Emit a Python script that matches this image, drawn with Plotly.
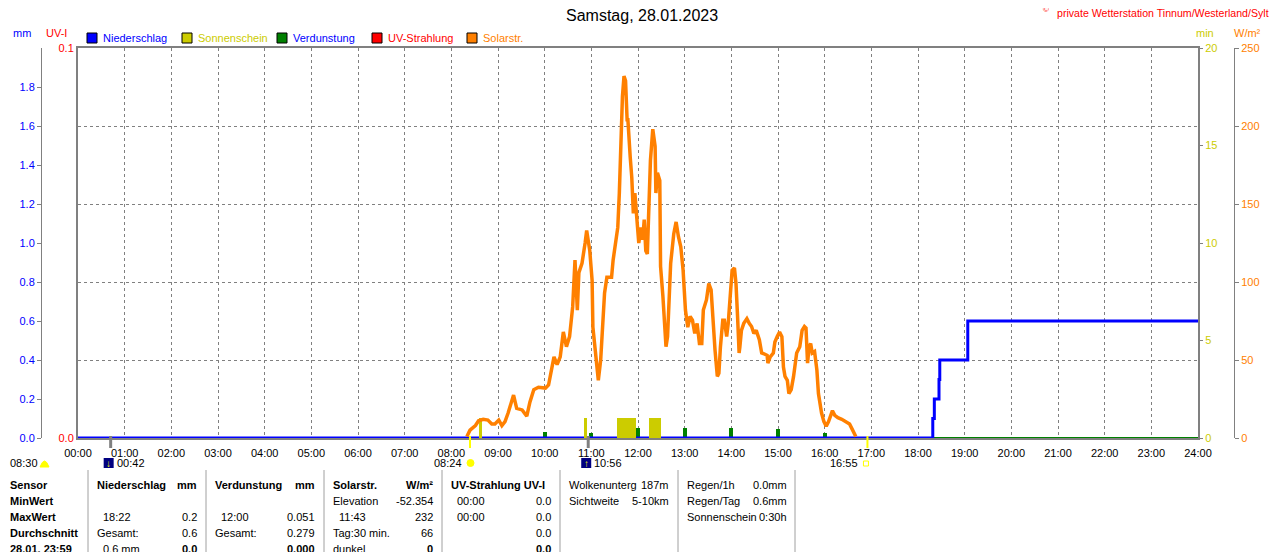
import plotly.graph_objects as go

PAGE_OFFSET = 8  # browser body margin around the plot div
W, H = 1280 - PAGE_OFFSET, 552 - PAGE_OFFSET

# --- chart data ---
hour_labels = [f"{h:02d}:00" for h in range(25)]

solar_time = [
    "08:20", "08:24", "08:31", "08:35", "08:41", "08:47", "08:52", "08:56", "09:01", "09:05",
    "09:09", "09:13", "09:20", "09:24", "09:31", "09:37", "09:41", "09:46", "09:52", "10:01",
    "10:05", "10:09", "10:12", "10:16", "10:20", "10:24", "10:28", "10:32", "10:36", "10:39",
    "10:42", "10:44", "10:48", "10:52", "10:54", "10:58", "11:01", "11:02", "11:06", "11:09",
    "11:12", "11:14", "11:17", "11:20", "11:26", "11:28", "11:31", "11:34", "11:36", "11:38",
    "11:40", "11:42", "11:44", "11:46", "11:47", "11:50", "11:52", "11:54", "11:56", "11:58",
    "12:01", "12:04", "12:06", "12:08", "12:10", "12:12", "12:14", "12:16", "12:19", "12:22",
    "12:23", "12:25", "12:28", "12:29", "12:32", "12:34", "12:36", "12:38", "12:40", "12:42",
    "12:46", "12:49", "12:52", "12:55", "12:58", "13:01", "13:04", "13:07", "13:10", "13:13",
    "13:16", "13:19", "13:22", "13:24", "13:28", "13:31", "13:34", "13:36", "13:39", "13:42",
    "13:44", "13:46", "13:49", "13:51", "13:54", "13:56", "13:58", "14:01", "14:04", "14:06",
    "14:08", "14:10", "14:11", "14:13", "14:16", "14:20", "14:23", "14:26", "14:29", "14:32",
    "14:36", "14:39", "14:42", "14:46", "14:47", "14:50", "14:54", "14:56", "14:59", "15:02",
    "15:05", "15:07", "15:09", "15:12", "15:14", "15:17", "15:20", "15:22", "15:24", "15:28",
    "15:31", "15:34", "15:36", "15:38", "15:40", "15:42", "15:44", "15:47", "15:50", "15:52",
    "15:54", "15:56", "15:59", "16:02", "16:05", "16:08", "16:10", "16:13", "16:17", "16:22",
    "16:28", "16:32", "16:35", "16:38", "16:40",
]
solar_wm2 = [
    1, 5, 8, 11, 12, 11.5, 9, 9, 11.5, 8,
    10.5, 16, 27.5, 19, 18, 14, 23, 31, 32.5, 32,
    34, 43.5, 52, 47, 52, 68, 58.5, 65, 84, 114,
    82, 106, 112, 125, 133, 120, 101, 71, 50, 37,
    50, 71, 93, 103, 103, 114, 125, 135, 157, 189,
    219, 232, 229, 204, 204, 180, 167, 144, 157, 144,
    125, 135, 127, 140, 120, 118, 146, 178, 198, 187,
    157, 170, 165, 110, 91, 71, 58.5, 65, 93, 112,
    131, 138.5, 129, 122.5, 107.5, 82, 71, 78, 75.5, 67,
    73.5, 60.5, 60.5, 82, 88.5, 99, 95, 78, 56.5, 39.5,
    41.5, 58.5, 75.5, 75.5, 65, 73.5, 88.5, 107.5, 109, 99,
    78, 54.5, 58.5, 69, 73.5, 76.5, 73.5, 71.5, 67, 69,
    63, 54.5, 54, 53, 48, 52, 54.5, 61.5, 65, 68,
    65, 45.5, 39.5, 37, 28.5, 31, 39.5, 48, 54.5, 58.5,
    69, 71.5, 70.5, 48, 58.5, 60.5, 54.5, 55.5, 43.5, 28.5,
    22, 16, 10.5, 7.5, 10.5, 14.5, 17.5, 14.5, 13, 12,
    10.5, 9, 6, 3, 1,
]

rain_time = ["00:00", "18:19", "18:21", "18:27", "18:28", "19:04", "24:00"]
rain_mm = [0.0, 0.1, 0.2, 0.3, 0.4, 0.6, 0.6]

evap_time = ["10:00", "11:00", "12:00", "13:00", "14:00", "15:00", "16:00"]
evap_mm = [0.030, 0.028, 0.051, 0.050, 0.049, 0.047, 0.024]
evap_line_time = ["00:00", "24:00"]
evap_line_mm = [0.0, 0.0]

uv_time = ["00:00", "24:00"]
uv_index = [0.0, 0.0]

sun_start = ["08:36", "10:51", "11:33", "12:14"]
sun_end = ["08:40", "10:55", "11:58", "12:30"]
sun_min = [1.05, 1.05, 1.05, 1.05]

sunrise, sunset = "08:24", "16:55"
moonset, moonrise = "00:42", "10:56"

mm_ticks = [0.0, 0.2, 0.4, 0.6, 0.8, 1.0, 1.2, 1.4, 1.6, 1.8]
uv_ticks = [0.0, 0.1]
min_ticks = [0, 5, 10, 15, 20]
wm2_ticks = [0, 50, 100, 150, 200, 250]

# table text, one list per column block (rows: header, Min, Max, Avg, current)
sensor_col = ["Sensor", "MinWert", "MaxWert", "Durchschnitt", "28.01. 23:59"]
blocks = [
    (["Niederschlag", "", "·18:22", "Gesamt:", "·0.6 mm"], ["mm", "", "0.2", "0.6", "0.0"]),
    (["Verdunstung", "", "·12:00", "Gesamt:", ""], ["mm", "", "0.051", "0.279", "0.000"]),
    (["Solarstr.", "Elevation", "·11:43", "Tag:30 min.", "dunkel"], ["W/m²", "-52.354", "232", "66", "0"]),
    (["UV-Strahlung UV-I", "·00:00", "·00:00", "", ""], ["", "0.0", "0.0", "0.0", "0.0"]),
    (["Wolkenunterg", "Sichtweite", "", "", ""], ["187m", "5-10km", "", "", ""]),
    (["Regen/1h", "Regen/Tag", "Sonnenschein", "", ""], ["0.0mm", "0.6mm", "0:30h", "", ""]),
]

legend_items = [
    ("Niederschlag", "#0000FF", "#0000FF"),
    ("Sonnenschein", "#CCCC00", "#CCCC00"),
    ("Verdunstung", "#008000", "#0000FF"),
    ("UV-Strahlung", "#FF0000", "#FF0000"),
    ("Solarstr.", "#FF8000", "#FF8000"),
]

FONT = "Liberation Sans"
GRID = "#808080"


def hrs(t):
    h, m = t.split(":")
    return int(h) + int(m) / 60


def px(x):
    return (x - PAGE_OFFSET) / W


def py(y):
    return 1 - (y - PAGE_OFFSET) / H


YDOM = [py(438), py(48)]

fig = go.Figure()

fig.add_trace(go.Scatter(
    x=[hrs(t) for t in uv_time], y=uv_index, mode="lines",
    line=dict(color="#FF0000", width=2), yaxis="y",
))
fig.add_trace(go.Bar(
    x=[(hrs(a) + hrs(b)) / 2 for a, b in zip(sun_start, sun_end)],
    y=sun_min,
    width=[hrs(b) - hrs(a) for a, b in zip(sun_start, sun_end)],
    marker=dict(color="#CCCC00", line_width=0),
    yaxis="y3",
))
fig.add_trace(go.Bar(
    x=[hrs(t) for t in evap_time], y=evap_mm, width=[0.09] * len(evap_time),
    marker=dict(color="#008000", line_width=0),
    yaxis="y2",
))
fig.add_trace(go.Scatter(
    x=[hrs(t) for t in solar_time], y=solar_wm2, mode="lines",
    line=dict(color="#FF8000", width=3.5), yaxis="y4",
))
fig.add_trace(go.Scatter(
    x=[hrs(t) for t in evap_line_time], y=evap_line_mm, mode="lines",
    line=dict(color="#008000", width=2), yaxis="y2",
))
fig.add_trace(go.Scatter(
    x=[hrs(t) for t in rain_time], y=rain_mm, mode="lines", line_shape="hv",
    line=dict(color="#0000FF", width=3), yaxis="y2",
))

# horizontal grid every 0.2 mm, i.e. every 0.02 on the UV-I scale
uv_grid = [round(i * 0.02, 2) for i in range(6)]

tick_font = dict(family=FONT, size=11)
fig.update_layout(
    width=W, height=H, margin=dict(l=0, r=0, t=0, b=0, autoexpand=False),
    paper_bgcolor="white", plot_bgcolor="white",
    showlegend=False, barmode="overlay", bargap=0,
    font=dict(family=FONT, size=11, color="black"),
    xaxis=dict(
        domain=[px(78), px(1198)], range=[0, 24], anchor="y",
        tickvals=[hrs(t) for t in hour_labels], ticktext=hour_labels,
        tickfont=dict(tick_font, color="black"), ticks="", ticklabelstandoff=4,
        showgrid=True, gridcolor=GRID, griddash="3px,3px", gridwidth=1,
        showline=True, linecolor=GRID, linewidth=2, mirror=True, zeroline=False,
    ),
    yaxis=dict(
        domain=YDOM, range=[0, 0.1], anchor="x", side="left",
        tickvals=uv_grid,
        ticktext=[f"{v:.1f}" if v in uv_ticks else "" for v in uv_grid],
        tickfont=dict(tick_font, color="#FF0000"), ticks="",
        showgrid=True, gridcolor=GRID, griddash="3px,3px", gridwidth=1, zeroline=False,
        showline=True, linecolor=GRID, linewidth=2, mirror=True,
    ),
    yaxis2=dict(
        domain=YDOM, overlaying="y", anchor="free", position=px(41), side="left", range=[0, 2],
        tickvals=mm_ticks, ticktext=[f"{v:.1f}" for v in mm_ticks],
        tickfont=dict(tick_font, color="#0000FF"),
        ticks="outside", ticklen=4, tickcolor=GRID,
        showline=True, linecolor=GRID, linewidth=1, showgrid=False, zeroline=False,
    ),
    yaxis3=dict(
        domain=YDOM, overlaying="y", anchor="x", side="right", range=[0, 20],
        tickvals=min_ticks, tickfont=dict(tick_font, color="#CCCC00"),
        ticks="outside", ticklen=4, tickcolor=GRID,
        showgrid=False, zeroline=False,
    ),
    yaxis4=dict(
        domain=YDOM, overlaying="y", anchor="free", position=px(1234), side="right", range=[0, 250],
        tickvals=wm2_ticks, tickfont=dict(tick_font, color="#FF8000"),
        ticks="outside", ticklen=4, tickcolor=GRID,
        showline=True, linecolor=GRID, linewidth=1, showgrid=False, zeroline=False,
    ),
)

ann = []
shapes = []


def text(x, y, s, color="black", size=11, anchor="left", bold=False):
    ann.append(dict(
        x=px(x), y=py(y), xref="paper", yref="paper", text=f"<b>{s}</b>" if bold else s,
        showarrow=False, xanchor=anchor, yanchor="middle",
        font=dict(family=FONT, size=size, color=color),
    ))


# title and header texts
text(642, 16, "Samstag, 28.01.2023", size=16, anchor="center")
text(1271, 13, "private Wetterstation Tinnum/Westerland/Sylt", color="#FF0000", size=10.6, anchor="right")
text(1046, 10, "©", color="#FF0000", size=8, anchor="center")
text(22, 33, "mm", color="#0000FF", anchor="center")
text(56, 33, "UV-I", color="#FF0000", anchor="center")
text(1205, 33, "min", color="#CCCC00", anchor="center")
text(1247, 33, "W/m²", color="#FF8000", anchor="center")

# legend
for i, (name, fill, tcol) in enumerate(legend_items):
    x0 = 87 + i * 95
    shapes.append(dict(type="rect", xref="paper", yref="paper",
                       x0=px(x0), x1=px(x0 + 10), y0=py(43), y1=py(33),
                       fillcolor=fill, line=dict(color="black", width=1)))
    text(x0 + 14, 38, name, color=tcol)

# sun / moon events below the time axis
for t, col, w in [(sunrise, "#FFFF00", 2), (sunset, "#FFFF00", 2), (moonset, "#808080", 3), (moonrise, "#808080", 3)]:
    shapes.append(dict(type="line", xref="x", yref="paper", x0=hrs(t), x1=hrs(t),
                       y0=py(436), y1=py(448), line=dict(color=col, width=w)))

text(8, 463, "08:30")
shapes.append(dict(type="path", xref="paper", yref="paper",
                   path=f"M {px(40)},{py(467)} Q {px(44.5)},{py(455)} {px(49)},{py(467)} Z",
                   fillcolor="#FFFF00", line=dict(color="#FFFF00", width=1)))
for t, up in [(moonset, False), (moonrise, True)]:
    cx = 78 + hrs(t) * 1120 / 24
    shapes.append(dict(type="rect", xref="paper", yref="paper",
                       x0=px(cx - 7), x1=px(cx + 3), y0=py(468), y1=py(458),
                       fillcolor="#000080", line=dict(width=0)))
    text(cx - 2, 463, "↑" if up else "↓", color="#FFFF00", size=10, anchor="center", bold=True)
    text(cx + 4, 463, t)
sx = 78 + hrs(sunrise) * 1120 / 24
text(sx - 6, 463, sunrise, anchor="right")
shapes.append(dict(type="circle", xref="paper", yref="paper",
                   x0=px(sx - 3), x1=px(sx + 4), y0=py(466.5), y1=py(459.5),
                   fillcolor="#FFFF00", line=dict(color="#FFFF00", width=1)))
ex = 78 + hrs(sunset) * 1120 / 24
text(ex - 7, 463, sunset, anchor="right")
shapes.append(dict(type="rect", xref="paper", yref="paper",
                   x0=px(ex - 4), x1=px(ex + 1), y0=py(466), y1=py(461),
                   fillcolor="white", line=dict(color="#FFFF00", width=1)))

# table
row_y = [485, 501, 517, 533, 549]
for r, s in enumerate(sensor_col):
    text(8, row_y[r], s, bold=True)
for b, (lefts, rights) in enumerate(blocks):
    x0 = 88 + b * 118
    shapes.append(dict(type="line", xref="paper", yref="paper", x0=px(x0), x1=px(x0),
                       y0=py(470), y1=py(560), line=dict(color="#A0A0A0", width=1)))
    for r in range(5):
        s = lefts[r]
        if s:
            indent = 6 if s.startswith("·") else 0
            text(x0 + 7 + indent, row_y[r], s.lstrip("·"), bold=(r == 0 and b < 4))
        s = rights[r]
        if s:
            text(x0 + 111, row_y[r], s, anchor="right", bold=(b < 4 and r in (0, 4)))
shapes.append(dict(type="line", xref="paper", yref="paper", x0=px(795), x1=px(795),
                   y0=py(470), y1=py(560), line=dict(color="#A0A0A0", width=1)))

fig.update_layout(annotations=ann, shapes=shapes)
fig.write_html("out.html")
